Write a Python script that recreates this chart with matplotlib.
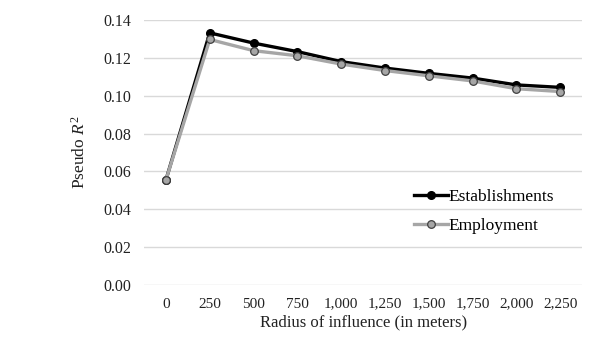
import matplotlib
matplotlib.use('Agg')
import matplotlib.pyplot as plt

# 数据
radius = ['0', '250', '500', '750', '1,000', '1,250', '1,500', '1,750', '2,000', '2,250']
establishments = [0.0555, 0.1332, 0.1278, 0.1233, 0.1180, 0.1146, 0.1118, 0.1093, 0.1057, 0.1044]
employment = [0.0555, 0.1297, 0.1238, 0.1211, 0.1167, 0.1133, 0.1105, 0.1078, 0.1037, 0.1022]

plt.rcParams['font.family'] = ['Liberation Serif', 'DejaVu Serif']
plt.rcParams['mathtext.fontset'] = 'custom'
plt.rcParams['mathtext.rm'] = 'Liberation Serif'
plt.rcParams['mathtext.it'] = 'Liberation Serif:italic'

fig = plt.figure(figsize=(5.91, 3.62), dpi=100)
ax = fig.add_axes([0.2437, 0.2127, 0.7413, 0.7321])

x = range(len(radius))
ax.plot(x, establishments, color='black', lw=2.4, marker='o', markersize=5.5,
        markerfacecolor='black', markeredgecolor='black', label='Establishments', zorder=3)
ax.plot(x, employment, color='#a6a6a6', lw=2.4, marker='o', markersize=5.5,
        markerfacecolor='#a6a6a6', markeredgecolor='#404040', markeredgewidth=0.9,
        label='Employment', zorder=4)

ax.set_xlim(-0.5, len(radius) - 0.5)
ax.set_ylim(0, 0.14)
ax.set_yticks([0.00, 0.02, 0.04, 0.06, 0.08, 0.10, 0.12, 0.14])
ax.set_yticklabels(['%.2f' % v for v in ax.get_yticks()])
ax.set_xticks(list(x))
ax.set_xticklabels(radius)
ax.tick_params(length=0, colors='#222222')
ax.tick_params(axis='x', labelsize=11, pad=9)
ax.tick_params(axis='y', labelsize=11.5, pad=9)
ax.grid(axis='y', color='#d9d9d9', lw=1)
ax.set_axisbelow(True)
for s in ax.spines.values():
    s.set_visible(False)

ax.set_xlabel('Radius of influence (in meters)', fontsize=12, color='#222222', labelpad=3)
ax.set_ylabel('Pseudo $R^2$', fontsize=12.5, color='#222222', labelpad=11)

ax.legend(loc='center left', bbox_to_anchor=(0.6, 0.277), frameon=False, fontsize=12.5,
          handlelength=1.95, handletextpad=0.05, labelspacing=0.72, borderaxespad=0)

fig.savefig('out.png', dpi=100)
